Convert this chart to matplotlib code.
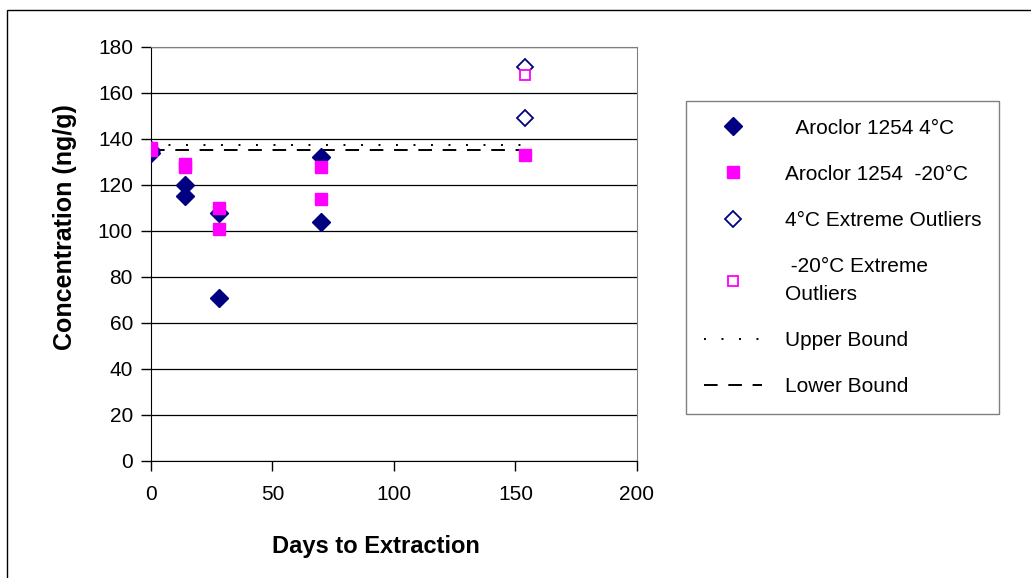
import matplotlib.pyplot as plt
from matplotlib.patches import Rectangle

plt.rcParams['font.family'] = ['Liberation Sans', 'DejaVu Sans']

# data
days_4c = [0, 0, 14, 14, 28, 28, 70, 70]
conc_4c = [135, 134, 120, 115, 108, 71, 132, 104]
days_20c = [0, 0, 14, 14, 28, 28, 70, 70, 154]
conc_20c = [136, 135, 129, 128, 110, 101, 128, 114, 133]
days_out_4c = [154, 154]
conc_out_4c = [171.5, 149]
days_out_20c = [154]
conc_out_20c = [168]
bound_days = [0, 158]
upper_bound = [137.5, 137.5]
lower_bound = [135, 135]

W, H = 1031, 578
fig = plt.figure(figsize=(W / 100, H / 100), dpi=100)
ax = fig.add_axes([151 / W, 1 - 461 / H, (637 - 151) / W, (461 - 47) / H])

navy = '#000080'
pink = '#FF00FF'

ax.plot(days_4c, conc_4c, linestyle='none', marker='D', ms=9, color=navy,
        label='  Aroclor 1254 4°C', zorder=3)
ax.plot(days_20c, conc_20c, linestyle='none', marker='s', ms=8, color=pink,
        label='Aroclor 1254  -20°C', zorder=4)
ax.plot(days_out_4c, conc_out_4c, linestyle='none', marker='D', ms=8,
        mfc='white', mec=navy, mew=1.3, label='4°C Extreme Outliers', zorder=3)
ax.plot(days_out_20c, conc_out_20c, linestyle='none', marker='s', ms=7,
        mfc='white', mec=pink, mew=1.3, label=' -20°C Extreme\nOutliers', zorder=4)
ax.plot(bound_days, upper_bound, color='black', lw=1.4, linestyle=(0, (1, 8)),
        label='Upper Bound', zorder=2)
ax.plot(bound_days, lower_bound, color='black', lw=1.4, linestyle=(0, (7, 5.5)),
        label='Lower Bound', zorder=2)

ax.set_xlim(0, 200)
ax.set_ylim(0, 180)
ax.set_xticks([0, 50, 100, 150, 200])
ax.set_yticks(range(0, 181, 20))
ax.grid(axis='y', color='black', lw=0.9)
ax.set_axisbelow(True)
ax.tick_params(labelsize=15, length=7, width=1, color='black', pad=6)
ax.tick_params(axis='x', pad=10)
for side in ['top', 'right']:
    ax.spines[side].set_color('#808080')
ax.spines['left'].set_color('black')
ax.spines['bottom'].set_color('black')
ax.set_xlabel('Days to Extraction', fontsize=17, fontweight='bold')
ax.xaxis.set_label_coords(0.463, -0.178)
ax.set_ylabel('Concentration (ng/g)', fontsize=18, fontweight='bold')
ax.yaxis.set_label_coords(-0.153, 0.565)

leg = ax.legend(loc='upper left', bbox_to_anchor=(686 / W, 1 - 101 / H),
                bbox_transform=fig.transFigure, fontsize=15, frameon=True,
                fancybox=False, edgecolor='#606060', handlelength=2.8,
                handletextpad=1.1, labelspacing=1.3, borderpad=0.85,
                borderaxespad=0)
leg.get_frame().set_linewidth(1)
for t in leg.get_texts():
    t.set_linespacing(1.6)

fig.patches.append(Rectangle((7 / W, -0.1), 1.2, 1 - 10 / H + 0.1,
                             transform=fig.transFigure, fill=False,
                             edgecolor='black', lw=1, zorder=0))

fig.savefig('out.png', dpi=100)
